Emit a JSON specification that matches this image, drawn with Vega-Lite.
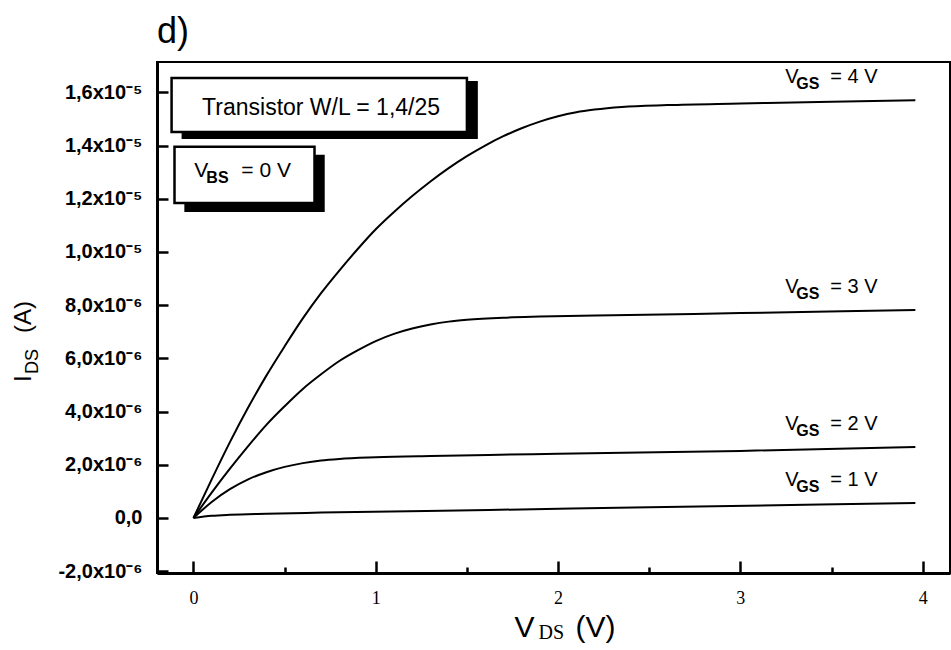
{
  "$schema": "https://vega.github.io/schema/vega-lite/v6.json",
  "width": 793,
  "height": 511,
  "autosize": "none",
  "padding": {"left": 157, "top": 62, "right": 1, "bottom": 77},
  "background": "white",
  "title": {"text": "d)", "anchor": "start", "frame": "group", "fontSize": 36, "font": "Liberation Sans", "fontWeight": "normal", "color": "black", "baseline": "alphabetic", "offset": -17},
  "config": {"view": {"stroke": "black", "strokeWidth": 2}},
  "datasets": {
    "curves": [
      {"vgs": 4, "v": 0, "i": 0},
      {"vgs": 4, "v": 0.1, "i": 1.45e-6},
      {"vgs": 4, "v": 0.2, "i": 2.85e-6},
      {"vgs": 4, "v": 0.3, "i": 4.15e-6},
      {"vgs": 4, "v": 0.4, "i": 5.35e-6},
      {"vgs": 4, "v": 0.5, "i": 6.45e-6},
      {"vgs": 4, "v": 0.6, "i": 7.5e-6},
      {"vgs": 4, "v": 0.7, "i": 8.45e-6},
      {"vgs": 4, "v": 0.8, "i": 9.3e-6},
      {"vgs": 4, "v": 0.9, "i": 10.1e-6},
      {"vgs": 4, "v": 1.0, "i": 10.85e-6},
      {"vgs": 4, "v": 1.1, "i": 11.5e-6},
      {"vgs": 4, "v": 1.2, "i": 12.1e-6},
      {"vgs": 4, "v": 1.3, "i": 12.65e-6},
      {"vgs": 4, "v": 1.4, "i": 13.15e-6},
      {"vgs": 4, "v": 1.5, "i": 13.6e-6},
      {"vgs": 4, "v": 1.6, "i": 14.0e-6},
      {"vgs": 4, "v": 1.7, "i": 14.35e-6},
      {"vgs": 4, "v": 1.8, "i": 14.65e-6},
      {"vgs": 4, "v": 1.9, "i": 14.9e-6},
      {"vgs": 4, "v": 2.0, "i": 15.1e-6},
      {"vgs": 4, "v": 2.1, "i": 15.25e-6},
      {"vgs": 4, "v": 2.2, "i": 15.35e-6},
      {"vgs": 4, "v": 2.35, "i": 15.45e-6},
      {"vgs": 4, "v": 2.6, "i": 15.52e-6},
      {"vgs": 4, "v": 3.0, "i": 15.58e-6},
      {"vgs": 4, "v": 3.5, "i": 15.65e-6},
      {"vgs": 4, "v": 3.96, "i": 15.7e-6},
      {"vgs": 3, "v": 0, "i": 0},
      {"vgs": 3, "v": 0.1, "i": 0.95e-6},
      {"vgs": 3, "v": 0.2, "i": 1.85e-6},
      {"vgs": 3, "v": 0.3, "i": 2.7e-6},
      {"vgs": 3, "v": 0.4, "i": 3.5e-6},
      {"vgs": 3, "v": 0.5, "i": 4.2e-6},
      {"vgs": 3, "v": 0.6, "i": 4.85e-6},
      {"vgs": 3, "v": 0.7, "i": 5.4e-6},
      {"vgs": 3, "v": 0.8, "i": 5.9e-6},
      {"vgs": 3, "v": 0.9, "i": 6.3e-6},
      {"vgs": 3, "v": 1.0, "i": 6.65e-6},
      {"vgs": 3, "v": 1.1, "i": 6.92e-6},
      {"vgs": 3, "v": 1.2, "i": 7.12e-6},
      {"vgs": 3, "v": 1.3, "i": 7.27e-6},
      {"vgs": 3, "v": 1.4, "i": 7.38e-6},
      {"vgs": 3, "v": 1.5, "i": 7.45e-6},
      {"vgs": 3, "v": 1.7, "i": 7.53e-6},
      {"vgs": 3, "v": 1.9, "i": 7.57e-6},
      {"vgs": 3, "v": 2.3, "i": 7.62e-6},
      {"vgs": 3, "v": 3.0, "i": 7.7e-6},
      {"vgs": 3, "v": 3.96, "i": 7.82e-6},
      {"vgs": 2, "v": 0, "i": 0},
      {"vgs": 2, "v": 0.1, "i": 0.6e-6},
      {"vgs": 2, "v": 0.2, "i": 1.08e-6},
      {"vgs": 2, "v": 0.3, "i": 1.45e-6},
      {"vgs": 2, "v": 0.4, "i": 1.72e-6},
      {"vgs": 2, "v": 0.5, "i": 1.92e-6},
      {"vgs": 2, "v": 0.6, "i": 2.06e-6},
      {"vgs": 2, "v": 0.7, "i": 2.16e-6},
      {"vgs": 2, "v": 0.8, "i": 2.22e-6},
      {"vgs": 2, "v": 1.0, "i": 2.28e-6},
      {"vgs": 2, "v": 1.3, "i": 2.33e-6},
      {"vgs": 2, "v": 1.62, "i": 2.37e-6},
      {"vgs": 2, "v": 2.0, "i": 2.41e-6},
      {"vgs": 2, "v": 3.0, "i": 2.52e-6},
      {"vgs": 2, "v": 3.96, "i": 2.67e-6},
      {"vgs": 1, "v": 0, "i": 0},
      {"vgs": 1, "v": 0.1, "i": 0.08e-6},
      {"vgs": 1, "v": 0.2, "i": 0.12e-6},
      {"vgs": 1, "v": 0.4, "i": 0.16e-6},
      {"vgs": 1, "v": 0.7, "i": 0.2e-6},
      {"vgs": 1, "v": 1.62, "i": 0.3e-6},
      {"vgs": 1, "v": 2.5, "i": 0.4e-6},
      {"vgs": 1, "v": 3.96, "i": 0.56e-6}
    ]
  },
  "layer": [
    {
      "data": {"name": "curves"},
      "mark": {"type": "line", "color": "black", "strokeWidth": 2, "interpolate": "monotone"},
      "encoding": {
        "x": {
          "field": "v", "type": "quantitative",
          "scale": {"domain": [-0.2, 4.15], "nice": false, "zero": false},
          "axis": {
            "title": null, "grid": false,
            "values": [0, 0.5, 1, 1.5, 2, 2.5, 3, 3.5, 4],
            "labelExpr": "datum.value % 1 == 0 ? format(datum.value, 'd') : ''",
            "domainColor": "black", "domainWidth": 3,
            "tickColor": "black", "tickWidth": 2.5,
            "tickSize": {"condition": {"test": "datum.value % 1 != 0", "value": -6}, "value": -12},
            "labelFont": "Liberation Serif", "labelFontSize": 18, "labelColor": "black",
            "labelPadding": 28, "labelFlush": false, "labelOverlap": false
          }
        },
        "y": {
          "field": "i", "type": "quantitative",
          "scale": {"domain": [-2.07e-6, 1.714e-5], "nice": false, "zero": false},
          "axis": {
            "title": null, "grid": false,
            "values": [-2e-6, -1e-6, 0, 1e-6, 2e-6, 3e-6, 4e-6, 5e-6, 6e-6, 7e-6, 8e-6, 9e-6, 1e-5, 1.1e-5, 1.2e-5, 1.3e-5, 1.4e-5, 1.5e-5, 1.6e-5, 1.7e-5],
            "labelExpr": "round(datum.value*1e6) % 2 != 0 ? '' : (round(datum.value*1e6) == 0 ? '0,0' : (abs(datum.value) >= 9.9e-6 ? replace(format(datum.value*1e5, '.1f'), '.', ',') + 'x10⁻⁵' : replace(replace(format(datum.value*1e6, '.1f'), '.', ','), '−', '-') + 'x10⁻⁶'))",
            "domainColor": "black", "domainWidth": 3,
            "tickColor": "black", "tickWidth": 2.5,
            "tickSize": {"condition": {"test": "round(datum.value*1e6) % 2 != 0", "value": -7}, "value": -11},
            "labelFont": "Liberation Sans", "labelFontWeight": "bold", "labelFontSize": 20, "labelColor": "black",
            "labelPadding": 26, "labelFlush": false, "labelOverlap": false
          }
        },
        "detail": {"field": "vgs", "type": "nominal"}
      }
    },
    {
      "data": {"values": [{}]},
      "mark": {"type": "rect", "fill": "black"},
      "encoding": {"x": {"datum": -0.065, "type": "quantitative"}, "x2": {"datum": 1.56}, "y": {"datum": 16.43e-6, "type": "quantitative"}, "y2": {"datum": 14.25e-6}}
    },
    {
      "data": {"values": [{}]},
      "mark": {"type": "rect", "fill": "white", "stroke": "black", "strokeWidth": 2.5},
      "encoding": {"x": {"datum": -0.12, "type": "quantitative"}, "x2": {"datum": 1.50}, "y": {"datum": 16.54e-6, "type": "quantitative"}, "y2": {"datum": 14.51e-6}}
    },
    {
      "data": {"values": [{}]},
      "mark": {"type": "rect", "fill": "black"},
      "encoding": {"x": {"datum": -0.05, "type": "quantitative"}, "x2": {"datum": 0.72}, "y": {"datum": 13.65e-6, "type": "quantitative"}, "y2": {"datum": 11.5e-6}}
    },
    {
      "data": {"values": [{}]},
      "mark": {"type": "rect", "fill": "white", "stroke": "black", "strokeWidth": 2.5},
      "encoding": {"x": {"datum": -0.104, "type": "quantitative"}, "x2": {"datum": 0.664}, "y": {"datum": 13.95e-6, "type": "quantitative"}, "y2": {"datum": 11.84e-6}}
    },
    {
      "data": {"values": [{}]},
      "mark": {"type": "text", "text": "Transistor W/L = 1,4/25", "font": "Liberation Sans", "fontSize": 23, "color": "black", "align": "center", "baseline": "alphabetic"},
      "encoding": {"x": {"datum": 0.70, "type": "quantitative"}, "y": {"datum": 15.15e-6, "type": "quantitative"}}
    },
    {
      "data": {"values": [{}]},
      "mark": {"type": "text", "text": "V", "font": "Liberation Sans", "fontSize": 21, "color": "black", "align": "left", "baseline": "alphabetic"},
      "encoding": {"x": {"datum": 0.005, "type": "quantitative"}, "y": {"datum": 12.82e-6, "type": "quantitative"}}
    },
    {
      "data": {"values": [{}]},
      "mark": {"type": "text", "text": "BS", "font": "Liberation Sans", "fontSize": 16, "fontWeight": "bold", "color": "black", "align": "left", "baseline": "alphabetic", "dx": 12, "dy": 6},
      "encoding": {"x": {"datum": 0.005, "type": "quantitative"}, "y": {"datum": 12.82e-6, "type": "quantitative"}}
    },
    {
      "data": {"values": [{}]},
      "mark": {"type": "text", "text": "= 0 V", "font": "Liberation Sans", "fontSize": 21, "color": "black", "align": "left", "baseline": "alphabetic", "dx": 47},
      "encoding": {"x": {"datum": 0.005, "type": "quantitative"}, "y": {"datum": 12.82e-6, "type": "quantitative"}}
    },
    {
      "data": {"name": "curves"},
      "transform": [{"filter": "datum.v == 3.96"}],
      "mark": {"type": "text", "text": "V", "font": "Liberation Sans", "fontSize": 20, "color": "black", "align": "left", "baseline": "alphabetic", "dx": -130, "dy": -17},
      "encoding": {"x": {"field": "v", "type": "quantitative"}, "y": {"field": "i", "type": "quantitative"}}
    },
    {
      "data": {"name": "curves"},
      "transform": [{"filter": "datum.v == 3.96"}],
      "mark": {"type": "text", "text": "GS", "font": "Liberation Sans", "fontSize": 16, "fontWeight": "bold", "color": "black", "align": "left", "baseline": "alphabetic", "dx": -119, "dy": -11},
      "encoding": {"x": {"field": "v", "type": "quantitative"}, "y": {"field": "i", "type": "quantitative"}}
    },
    {
      "data": {"name": "curves"},
      "transform": [{"filter": "datum.v == 3.96"}, {"calculate": "'= ' + datum.vgs + ' V'", "as": "lab"}],
      "mark": {"type": "text", "font": "Liberation Sans", "fontSize": 20, "color": "black", "align": "left", "baseline": "alphabetic", "dx": -85, "dy": -17},
      "encoding": {"x": {"field": "v", "type": "quantitative"}, "y": {"field": "i", "type": "quantitative"}, "text": {"field": "lab"}}
    },
    {
      "data": {"values": [{}]},
      "mark": {"type": "text", "text": "V", "font": "Liberation Sans", "fontSize": 30, "color": "black", "align": "left", "baseline": "alphabetic"},
      "encoding": {"x": {"datum": 1.761, "type": "quantitative"}, "y": {"datum": -4.47e-6, "type": "quantitative"}}
    },
    {
      "data": {"values": [{}]},
      "mark": {"type": "text", "text": "DS", "font": "Liberation Serif", "fontSize": 20, "color": "black", "align": "left", "baseline": "alphabetic", "dx": 24, "dy": 2},
      "encoding": {"x": {"datum": 1.761, "type": "quantitative"}, "y": {"datum": -4.47e-6, "type": "quantitative"}}
    },
    {
      "data": {"values": [{}]},
      "mark": {"type": "text", "text": "(V)", "font": "Liberation Sans", "fontSize": 30, "color": "black", "align": "left", "baseline": "alphabetic", "dx": 61},
      "encoding": {"x": {"datum": 1.761, "type": "quantitative"}, "y": {"datum": -4.47e-6, "type": "quantitative"}}
    },
    {
      "data": {"values": [{}]},
      "mark": {"type": "text", "text": "I", "font": "Liberation Sans", "fontSize": 24, "color": "black", "align": "left", "baseline": "alphabetic", "angle": 270},
      "encoding": {"x": {"datum": -0.89, "type": "quantitative"}, "y": {"datum": 5.11e-6, "type": "quantitative"}}
    },
    {
      "data": {"values": [{}]},
      "mark": {"type": "text", "text": "DS", "font": "Liberation Sans", "fontSize": 18, "color": "black", "align": "left", "baseline": "alphabetic", "angle": 270, "dx": 8, "dy": 7},
      "encoding": {"x": {"datum": -0.89, "type": "quantitative"}, "y": {"datum": 5.11e-6, "type": "quantitative"}}
    },
    {
      "data": {"values": [{}]},
      "mark": {"type": "text", "text": "(A)", "font": "Liberation Sans", "fontSize": 24, "color": "black", "align": "left", "baseline": "alphabetic", "angle": 270, "dx": 49},
      "encoding": {"x": {"datum": -0.89, "type": "quantitative"}, "y": {"datum": 5.11e-6, "type": "quantitative"}}
    }
  ]
}
